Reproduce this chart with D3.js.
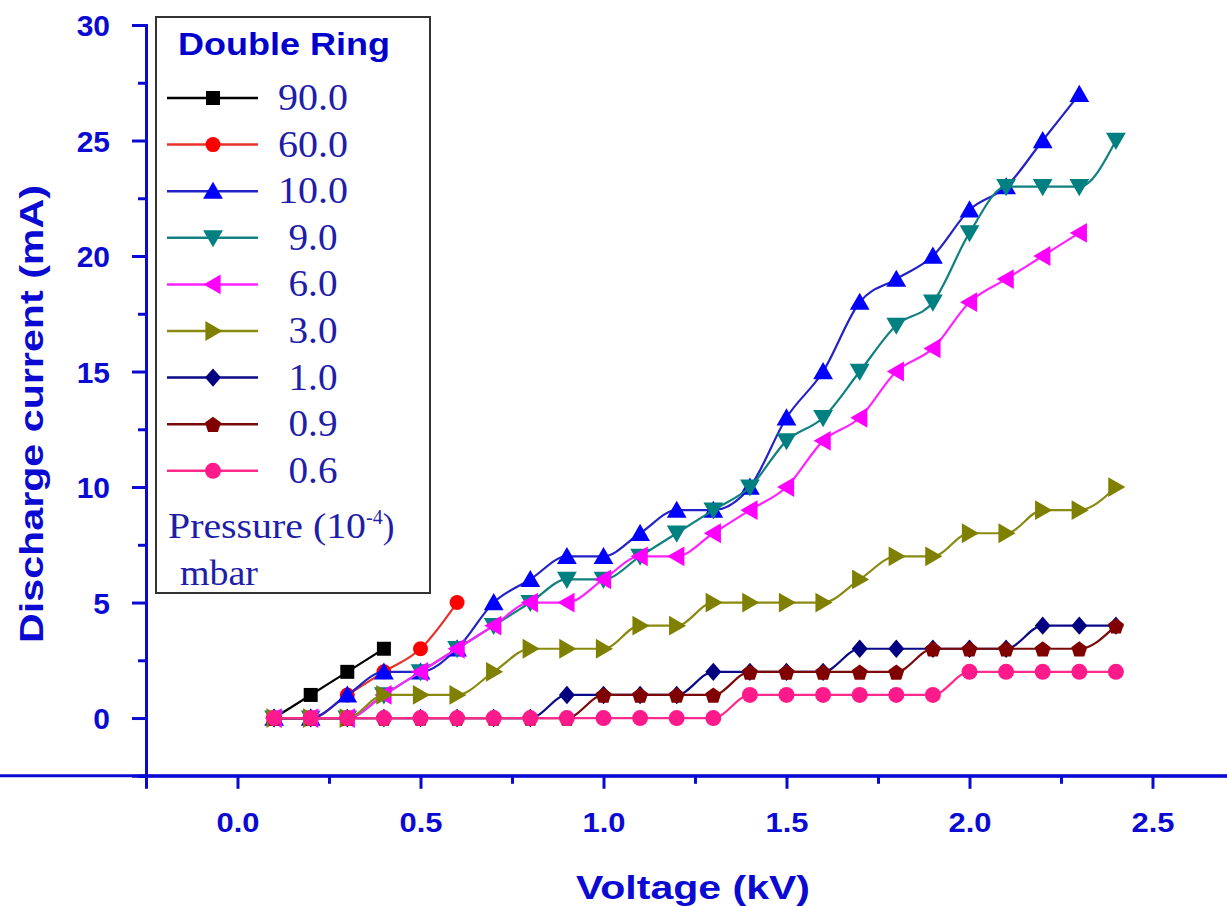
<!DOCTYPE html>
<html><head><meta charset="utf-8">
<script src="https://d3js.org/d3.v7.min.js"></script>
<style>html,body{margin:0;padding:0;background:#fff;overflow:hidden}</style>
</head><body>
<svg id="chart" width="1227" height="906"></svg>
<script>
// ---- data ----
const voltage = [0.1,0.2,0.3,0.4,0.5,0.6,0.7,0.8,0.9,1.0,1.1,1.2,1.3,1.4,1.5,1.6,1.7,1.8,1.9,2.0,2.1,2.2,2.3,2.4];
const p90  = [0,1,2,3];
const p60  = [0,0,1,2,3,5];
const p10  = [0,0,1,2,2,3,5,6,7,7,8,9,9,10,13,15,18,19,20,22,23,25,27];
const p9   = [0,0,0,1,2,3,4,5,6,6,7,8,9,10,12,13,15,17,18,21,23,23,23,25];
const p6   = [0,0,0,1,2,3,4,5,5,6,7,7,8,9,10,12,13,15,16,18,19,20,21];
const p3   = [0,0,0,1,1,1,2,3,3,3,4,4,5,5,5,5,6,7,7,8,8,9,9,10];
const p1   = [0,0,0,0,0,0,0,0,1,1,1,1,2,2,2,2,3,3,3,3,3,4,4,4];
const p09  = [0,0,0,0,0,0,0,0,0,1,1,1,1,2,2,2,2,2,3,3,3,3,3,4];
const p06  = [0,0,0,0,0,0,0,0,0,0,0,0,0,1,1,1,1,1,1,2,2,2,2,2];
const seriesNames = ["90.0","60.0","10.0","9.0","6.0","3.0","1.0","0.9","0.6"];
const seriesValues = [p90,p60,p10,p9,p6,p3,p1,p09,p06];
const lineColors = ["#000000","#e8322a","#2222c8","#108080","#ff22ff","#8a8a10","#0a0a88","#7a0a0a","#ff2a8c"];
const markColors = ["#000000","#ff0000","#0000ff","#008080","#ff00ff","#808000","#000080","#800000","#ff1a8c"];
const markShapes = ["square","circle","up","down","left","right","diamond","pentagon","circle"];
const xTicks = [0.0,0.5,1.0,1.5,2.0,2.5];
const yTicks = [0,5,10,15,20,25,30];

// ---- layout ----
const svg = d3.select("#chart");
const axisBlue = "#0a0ad2";
const x = d3.scaleLinear().domain([-0.25,2.75]).range([146,1244]);
const y = d3.scaleLinear().domain([-2.5,30]).range([775.8,25]);

function shapePath(shape, s){
  const h=s/2;
  switch(shape){
    case "square": return `M${-h},${-h}H${h}V${h}H${-h}Z`;
    case "circle": return d3.symbol(d3.symbolCircle, Math.PI*h*h)();
    case "up": return `M0,${-h*1.05}L${h*1.1},${h*0.85}L${-h*1.1},${h*0.85}Z`;
    case "down": return `M0,${h*1.05}L${h*1.1},${-h*0.85}L${-h*1.1},${-h*0.85}Z`;
    case "left": return `M${-h*1.05},0L${h*0.85},${-h*1.1}L${h*0.85},${h*1.1}Z`;
    case "right": return `M${h*1.05},0L${-h*0.85},${-h*1.1}L${-h*0.85},${h*1.1}Z`;
    case "diamond": return `M0,${-h*1.15}L${h*1.0},0L0,${h*1.15}L${-h*1.0},0Z`;
    case "pentagon": {
      const pts=[]; for(let i=0;i<5;i++){const a=-Math.PI/2+i*2*Math.PI/5; pts.push([Math.cos(a)*h*1.05, Math.sin(a)*h*1.05+1]);}
      return "M"+pts.map(p=>p.join(",")).join("L")+"Z";
    }
  }
}
const markSize = [14,15,18,18,18,18,16,16,16];

// ---- axes ----
const gx = svg.append("g").attr("transform",`translate(0,${y(-2.5)})`)
  .call(d3.axisBottom(x).tickValues(d3.range(-0.25,2.76,0.25).filter(v=>Math.abs(v/0.5-Math.round(v/0.5))>0.01)).tickSize(8).tickFormat(""));
svg.append("g").attr("transform",`translate(0,${y(-2.5)})`)
  .call(d3.axisBottom(x).tickValues(xTicks).tickSize(13).tickFormat(d3.format(".1f")))
  .call(g=>g.selectAll("text").attr("dy",null).attr("y",56)
      .style("font-size","28px").style("font-weight","bold")
      .style("font-family","'Liberation Sans',Arial,sans-serif")
      .attr("textLength",43).attr("lengthAdjust","spacingAndGlyphs")
      .attr("fill",axisBlue));
svg.append("g").attr("transform","translate(146,0)")
  .call(d3.axisLeft(y).tickValues(d3.range(-2.5,30.1,5)).tickSize(8).tickFormat(""));
svg.append("g").attr("transform","translate(146,0)")
  .call(d3.axisLeft(y).tickValues(yTicks).tickSize(14).tickFormat(d3.format("d")))
  .call(g=>g.selectAll("text").attr("x",-36).attr("dy","0.36em")
      .style("font-size","30px").style("font-weight","bold")
      .style("font-family","'Liberation Sans',Arial,sans-serif")
      .attr("fill",axisBlue));
svg.selectAll(".domain").attr("stroke",axisBlue).attr("stroke-width",3);
svg.selectAll(".tick line").attr("stroke",axisBlue).attr("stroke-width",3);
gx.select(".domain").attr("d","M0,0H1227");

// titles
svg.append("text").attr("x",693).attr("y",899).attr("text-anchor","middle")
  .attr("font-family","'Liberation Sans',Arial,sans-serif").attr("font-weight","bold").attr("font-size",33)
  .attr("fill",axisBlue).attr("textLength",234).attr("lengthAdjust","spacingAndGlyphs").text("Voltage (kV)");
svg.append("text").attr("transform","translate(43,414) rotate(-90)").attr("text-anchor","middle")
  .attr("font-family","'Liberation Sans',Arial,sans-serif").attr("font-weight","bold").attr("font-size",34)
  .attr("fill",axisBlue).attr("textLength",458).attr("lengthAdjust","spacingAndGlyphs").text("Discharge current (mA)");

// ---- series ----
const line = d3.line().x(d=>x(d[0])).y(d=>y(d[1])).curve(d3.curveMonotoneX);
seriesValues.forEach((vals,i)=>{
  const pts = vals.map((v,j)=>[voltage[j],v]);
  const g = svg.append("g");
  g.append("path").attr("d",line(pts)).attr("fill","none").attr("stroke",lineColors[i]).attr("stroke-width",2.2);
  g.selectAll("path.m").data(pts).enter().append("path").attr("class","m")
    .attr("transform",d=>`translate(${x(d[0])},${y(d[1])})`)
    .attr("d",shapePath(markShapes[i],markSize[i])).attr("fill",markColors[i]);
});

// ---- legend ----
const lg = svg.append("g");
lg.append("rect").attr("x",156).attr("y",17).attr("width",274).attr("height",576)
  .attr("fill","#fff").attr("stroke","#333").attr("stroke-width",2);
lg.append("text").attr("x",178).attr("y",55).attr("font-family","'Liberation Sans',Arial,sans-serif")
  .attr("font-weight","bold").attr("font-size",31).attr("fill","#0000cc")
  .attr("textLength",212).attr("lengthAdjust","spacingAndGlyphs").text("Double Ring");
const legColor = "#1e1ea8";
seriesNames.forEach((name,i)=>{
  const cy = 98 + i*46.6;
  lg.append("line").attr("x1",167).attr("x2",258).attr("y1",cy).attr("y2",cy)
    .attr("stroke",lineColors[i]).attr("stroke-width",2.5);
  lg.append("path").attr("transform",`translate(213,${cy})`).attr("d",shapePath(markShapes[i],markSize[i])).attr("fill",markColors[i]);
  lg.append("text").attr("x",313).attr("y",cy+12).attr("text-anchor","middle")
    .attr("font-family","'Liberation Serif','Times New Roman',serif").attr("font-size",37)
    .attr("fill",legColor).attr("textLength",name.length===4?70:49).attr("lengthAdjust","spacingAndGlyphs").text(name);
});
const pt = lg.append("text").attr("x",168).attr("y",538).attr("font-family","'Liberation Serif','Times New Roman',serif")
  .attr("font-size",35).attr("fill",legColor);
pt.append("tspan").attr("textLength",198).attr("lengthAdjust","spacingAndGlyphs").text("Pressure (10");
pt.append("tspan").attr("dy",-14).attr("font-size",20).text("-4");
pt.append("tspan").attr("dy",14).text(")");
lg.append("text").attr("x",180).attr("y",585).attr("font-family","'Liberation Serif','Times New Roman',serif")
  .attr("font-size",35).attr("fill",legColor).attr("textLength",78).attr("lengthAdjust","spacingAndGlyphs").text("mbar");
</script>
</body></html>
